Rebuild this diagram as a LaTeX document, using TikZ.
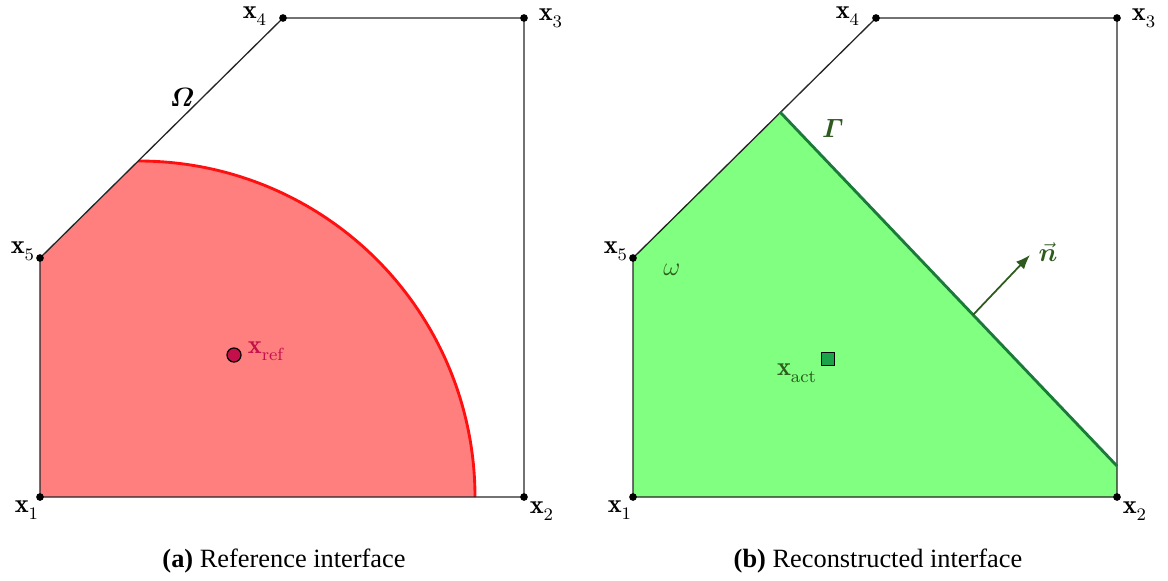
\documentclass[tikz,border=0pt]{standalone}
\usepackage{amsmath,bm}
\usepackage{fontspec}
\newfontfamily\capfont{Liberation Serif}
\usetikzlibrary{arrows.meta,calc}
\definecolor{redfill}{HTML}{FF7F7F}
\definecolor{redline}{HTML}{FF1010}
\definecolor{refcol}{HTML}{C4104A}
\definecolor{greenfill}{HTML}{80FF80}
\definecolor{gammaline}{HTML}{1B7A3A}
\definecolor{dkgreen}{HTML}{2E5A1E}
\definecolor{actfill}{HTML}{1AA348}
\newcommand{\xsub}[1]{\mathbf{x}_{\raisebox{-1.6pt}{$\scriptstyle #1$}}}
\tikzset{
  lbl/.style={font=\fontsize{12}{14}\selectfont, inner sep=0pt},
  captext/.style={font=\capfont\fontsize{12}{14}\selectfont, inner sep=0pt},
  edge/.style={draw=black!85, line width=0.6pt},
  vdot/.style={circle, fill=black, inner sep=0pt, minimum size=3.5pt},
}
\begin{document}
\begin{tikzpicture}[x=0.455pt,y=-0.455pt]
\useasboundingbox (0,0) rectangle (1168,581);
% ---------- left panel ----------
\coordinate (a1) at (40,497);
\coordinate (a2) at (524,497);
\coordinate (a3) at (524,18);
\coordinate (a4) at (283,18);
\coordinate (a5) at (40,258);
\coordinate (ac) at (139,497);
\begin{scope}
  \clip (a1) -- (a2) -- (a3) -- (a4) -- (a5) -- cycle;
  \fill[redfill] (ac) circle[radius=336];
  \draw[redline, line width=1.3pt] (475,497) arc[start angle=0, end angle=-92, radius=336];
\end{scope}
\draw[edge] (a1) -- (a2) -- (a3) -- (a4) -- (a5) -- cycle;
\foreach \p in {a1,a2,a3,a4,a5} \node[vdot] at (\p) {};
\node[lbl] (la1) at (27,510) {$\xsub{1}$};
\node[lbl] (la2) at (542,511) {$\xsub{2}$};
\node[lbl] (la3) at (551,18) {$\xsub{3}$};
\node[lbl] (la4) at (255,16) {$\xsub{4}$};
\node[lbl] (la5) at (23,251) {$\xsub{5}$};
\node[lbl] (omega) at (182,97) {$\bm{\varOmega}$};
\node[circle, fill=refcol, draw=black, line width=0.55pt, inner sep=0pt, minimum size=6.4pt] (xref) at (234,355) {};
\node[lbl, text=refcol] (lxref) at (266,351) {$\xsub{\mathrm{ref}}$};
\node[captext] (capa) at (284,561) {\textbf{(a)} Reference interface};
% ---------- right panel ----------
\coordinate (b1) at (633,497);
\coordinate (b2) at (1117,497);
\coordinate (b3) at (1117,18);
\coordinate (b4) at (876,18);
\coordinate (b5) at (633,258);
\coordinate (g1) at (780,112);
\coordinate (g2) at (1117,466);
\fill[greenfill] (b1) -- (b5) -- (g1) -- (g2) -- (b2) -- cycle;
\draw[edge] (b1) -- (b2) -- (b3) -- (b4) -- (b5) -- cycle;
\draw[gammaline, line width=1.3pt] (g1) -- (g2);
\foreach \p in {b1,b2,b3,b4,b5} \node[vdot] at (\p) {};
\node[lbl] (lb1) at (620,510) {$\xsub{1}$};
\node[lbl] (lb2) at (1135,511) {$\xsub{2}$};
\node[lbl] (lb3) at (1144,18) {$\xsub{3}$};
\node[lbl] (lb4) at (848,16) {$\xsub{4}$};
\node[lbl] (lb5) at (616,251) {$\xsub{5}$};
\node[lbl, text=dkgreen] (gam) at (833,128) {$\bm{\varGamma}$};
\node[lbl, text=dkgreen] (om) at (672,270) {$\omega$};
\coordinate (n0) at ($(g1)!0.573!(g2)$);
\coordinate (n1) at (1030,255);
\draw[dkgreen, line width=0.8pt, -{Latex[length=6.5pt,width=5pt]}] (n0) -- (n1);
\node[lbl, text=dkgreen] (nvec) at (1048,252) {$\vec{\bm{n}}$};
\node[rectangle, fill=actfill, draw=black, line width=0.55pt, inner sep=0pt, minimum size=6pt] (xact) at (828,359) {};
\node[lbl, text=dkgreen] (lxact) at (797,373) {$\xsub{\mathrm{act}}$};
\node[captext] (capb) at (878,561) {\textbf{(b)} Reconstructed interface};
\end{tikzpicture}
\end{document}
